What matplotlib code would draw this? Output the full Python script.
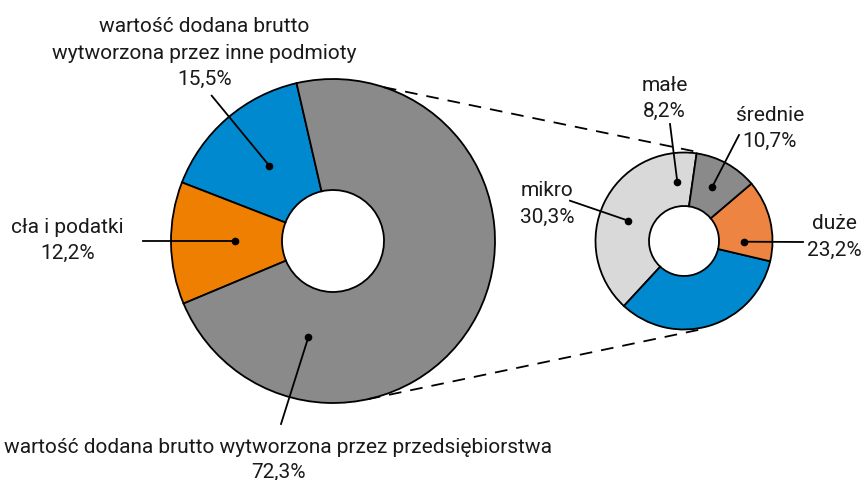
import matplotlib
matplotlib.use("Agg")
import matplotlib.pyplot as plt
import numpy as np
from matplotlib import font_manager

# font: condensed look of the original; fall back to Roboto
names = {f.name for f in font_manager.fontManager.ttflist}
family = ['Liberation Sans Narrow'] if 'Liberation Sans Narrow' in names else ['Roboto']
plt.rcParams['font.family'] = family + ['DejaVu Sans']

W, H = 864, 481

# left donut: structure of the total
left_names = ['inne podmioty', 'cła i podatki', 'przedsiębiorstwa']
left_values = [15.5, 12.2, 72.3]
left_colors = ['#0089cf', '#ef7f00', '#8a8a8a']

# right donut: slice shares as drawn in the picture
right_names = ['mikro i małe', 'pozostałe', 'duże', 'średnie']
right_values = [40.4, 33.2, 14.9, 11.5]
right_colors = ['#d9d9d9', '#0089cf', '#ee8441', '#8a8a8a']

# label texts
lbl_inne = ['wartość dodana brutto', 'wytworzona przez inne podmioty', '15,5%']
lbl_cla = ['cła i podatki', '12,2%']
lbl_przeds = ['wartość dodana brutto wytworzona przez przedsiębiorstwa', '72,3%']
lbl_mikro = ['mikro', '30,3%']
lbl_male = ['małe', '8,2%']
lbl_srednie = ['średnie', '10,7%']
lbl_duze = ['duże', '23,2%']


def py(y):
    # pixel row (from top) -> data y
    return H - y


fig = plt.figure(figsize=(W / 100, H / 100), dpi=100)
ax = fig.add_axes([0, 0, 1, 1])

lc, lr, lw = (333, py(242)), 162, 111
rc, rr, rw = (684, py(242)), 88.5, 53.5

ax.pie(left_values, colors=left_colors, startangle=103, center=lc, radius=lr,
       wedgeprops=dict(width=lw, edgecolor='black', linewidth=1.3))
ax.pie(right_values, colors=right_colors, startangle=81.8, center=rc, radius=rr,
       wedgeprops=dict(width=rw, edgecolor='black', linewidth=1.3))

ax.set_xlim(0, W)
ax.set_ylim(0, H)
ax.set_aspect('equal')
ax.axis('off')


# dashed connectors between the two rings
def on_circle(c, r, deg):
    a = np.deg2rad(deg)
    return c[0] + r * np.cos(a), c[1] + r * np.sin(a)


for a_left, a_right in [(71.7, 81), (-77.6, -79.7)]:
    p1 = on_circle(lc, lr, a_left)
    p2 = on_circle(rc, rr + 1.5, a_right)
    ax.plot([p1[0], p2[0]], [p1[1], p2[1]], color='black', lw=1.3,
            dashes=(7, 5), zorder=3)


def label(lines, x, baselines, dot, start, size=15):
    for txt, b in zip(lines, baselines):
        ax.text(x, py(b), txt, ha='center', va='baseline', fontsize=size,
                color='#1a1a1a')
    ax.plot([start[0], dot[0]], [py(start[1]), py(dot[1])], color='black',
            lw=1.3, zorder=4)
    ax.plot(dot[0], py(dot[1]), 'o', color='black', ms=4.5, zorder=5)


label(lbl_inne, 204.5, [32, 59, 85], (269.3, 166.7), (211.7, 96.7))
label(lbl_cla, 67.5, [232.7, 259.3], (234.7, 242.3), (143.3, 242.3))
label(lbl_przeds, 278, [453.3, 478.3], (308.3, 338.3), (281, 425))
label(lbl_mikro, 547, [196, 222.7], (628.3, 221.7), (570, 201.7))
label(lbl_male, 664.7, [91, 117.3], (677.3, 182.7), (670, 125))
label(lbl_srednie, 770, [121, 146.7], (712, 188.3), (739, 136))
label(lbl_duze, 834, [229.3, 256], (744, 242.7), (803, 243))

fig.savefig('out.png', dpi=100, facecolor='white')
